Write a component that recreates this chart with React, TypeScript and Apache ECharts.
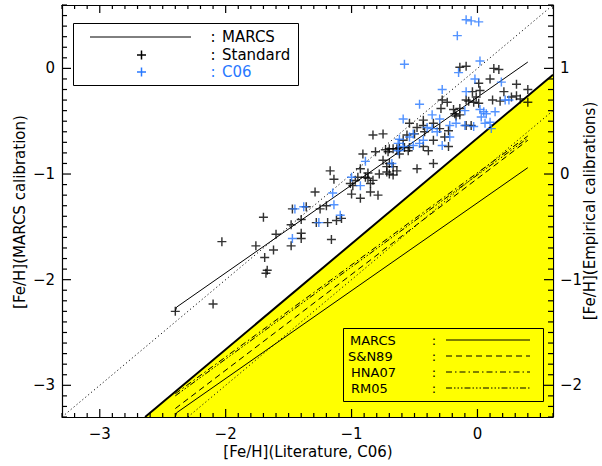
import React, { useEffect, useRef } from "react";
import * as echarts from "echarts";

// ---------- data ----------
const xTicks = [-3, -2, -1, 0];
const yLeftTicks = [-3, -2, -1, 0];
const yRightTicks = [-2, -1, 0, 1];

const blackX = [-2.40,-2.10,-2.03,-1.76,-1.70,-1.69,-1.67,-1.68,-1.62,-1.60,-1.48,-1.48,-1.47,-1.40,-1.40,-1.40,-1.36,-1.29,-1.28,-1.25,-1.20,-1.19,-1.16,-1.12,-1.08,-1.17,-1.14,-1.00,-0.97,-0.95,-0.93,-0.93,-0.91,-0.89,-0.87,-0.87,-0.85,-0.83,-0.81,-0.79,-0.78,-0.75,-0.75,-0.73,-0.72,-0.70,-0.67,-0.64,-0.64,-0.58,-0.55,-0.54,-0.56,-0.48,-0.43,-0.43,-0.42,-0.39,-0.35,-0.35,-0.35,-0.30,-0.28,-0.24,-0.29,-0.26,-0.23,-0.23,-0.19,-0.18,-0.17,-0.14,-0.14,-0.14,-0.09,-0.09,-0.09,-0.07,-0.05,-0.04,-0.03,-0.01,0.01,0.01,0.02,0.10,0.12,0.13,0.17,0.18,0.21,0.27,0.31,0.31,0.34,0.40,0.40,-0.54,-0.48,-0.59,-0.62,-0.70,-0.67,-1.01,-0.50,-0.43,-0.99,-0.85,-0.83,-0.72,-0.70,-0.71,-0.67,-0.62];
const blackY = [-2.30,-2.23,-1.64,-1.68,-1.41,-1.79,-1.91,-1.94,-1.72,-1.57,-1.48,-1.68,-1.33,-1.43,-1.56,-1.61,-1.31,-1.17,-1.46,-1.33,-1.30,-1.46,-1.62,-1.44,-1.42,-0.97,-1.05,-1.19,-1.06,-1.03,-0.95,-1.23,-0.81,-1.03,-0.99,-1.04,-1.17,-0.63,-0.79,-1.20,-1.00,-0.62,-0.87,-0.77,-0.98,-0.90,-0.93,-0.97,-0.76,-0.75,-0.78,-0.75,-0.63,-0.95,-0.49,-0.74,-0.60,-0.78,-0.68,-0.90,-0.52,-0.57,-0.30,-0.32,-0.38,-0.65,-0.59,-0.74,-0.39,-0.43,-0.45,0.01,-0.38,-0.44,0.02,-0.30,-0.54,-0.31,-0.54,-0.22,-0.32,-0.27,-0.14,-0.33,-0.21,-0.10,-0.30,0.00,-0.01,-0.31,-0.22,-0.27,-0.26,-0.15,-0.29,-0.20,-0.32,-0.52,-0.56,-0.68,-0.81,-0.76,-1.01,-1.09,-0.62,-0.54,-1.11,-1.09,-1.06,-0.93,-1.00,-0.79,-0.76,-0.75];

const blueX = [-1.45,-1.38,-1.47,-1.26,-1.15,-1.14,-1.09,-1.00,-0.93,-0.89,-0.68,-0.63,-0.63,-0.62,-0.54,-0.51,-0.59,-0.46,-0.43,-0.58,-0.59,-0.51,-0.46,-0.40,-0.36,-0.36,-0.32,-0.30,-0.28,-0.28,-0.22,-0.22,-0.17,-0.16,-0.15,-0.09,-0.05,0.01,0.02,-0.02,-0.09,-0.10,-0.10,-0.03,0.02,0.03,0.05,0.07,0.10,0.11,0.14,0.19,0.22,0.25,0.06];
const blueY = [-1.33,-1.31,-1.61,-1.46,-1.18,-1.29,-1.39,-1.03,-1.11,-0.88,-0.90,-0.71,-0.78,-0.67,-0.65,-0.62,-0.48,-0.34,-0.68,0.04,-0.74,-0.73,-0.71,-0.56,-0.57,-0.44,-0.60,-0.48,-0.20,-0.73,-0.54,-0.65,-0.52,0.31,-0.04,0.46,0.45,0.44,0.07,-0.10,-0.22,-0.40,-0.54,-0.55,-0.39,-0.46,-0.41,-0.43,-0.51,-0.57,-0.41,-0.13,-0.30,-0.30,-0.52];

// MARCS calibration (drawn on both the left and the right axis)
const marcsX = [-2.40, -2.39, 0.40];
const marcsY = [-2.30, -2.26, 0.06];
// empirical calibrations (right axis)
const calX = [-2.40, 0.40];
const sn89Y = [-2.22, 0.32];
const hna07Y = [-2.08, 0.36];
const rm05Y = [-2.10, 0.34];
// 1:1 lines
const oneLeftX = [-3.3, 0.6];
const oneRightX = [-2.3, 0.6];
// boundary of the shaded region (left axis)
const boundX = [-2.64, 0.6];
const boundY = [-3.3, -0.06];

const X_MIN = -3.3, X_MAX = 0.6;
const YL_MIN = -3.3, YL_MAX = 0.6;
const YR_MIN = -2.3, YR_MAX = 1.6;

const zip = (a: number[], b: number[]) =>
  a.slice(0, Math.min(a.length, b.length)).map((v, i) => [v, b[i]]);

const minorList = (lo: number, hi: number) => {
  const out: number[] = [];
  for (let i = Math.round(lo * 10); i <= Math.round(hi * 10); i++) {
    if (i % 10 !== 0) out.push(i / 10);
  }
  return out;
};

const FONT = '"DejaVu Sans", "Liberation Sans", sans-serif';
const BLUE = "#2878ff";
const PLUS = "path://M4.2,0H5.8V10H4.2Z M0,4.2H10V5.8H0Z";

const fmt = (v: number) => (v < 0 ? "\u2212" + Math.abs(v) : String(v));

export default function App() {
  const ref = useRef<HTMLDivElement>(null);
  useEffect(() => {
    if (!ref.current) return;
    const chart = echarts.init(ref.current, undefined, { renderer: "svg" });

    const labelStyle = { color: "#000", fontSize: 15, fontFamily: FONT, formatter: fmt };
    const axLine = { show: true, onZero: false, lineStyle: { color: "#000", width: 1.2 } };

    const mkX = (pos: string, labels: boolean) => ({
      type: "value",
      position: pos,
      min: X_MIN,
      max: X_MAX,
      axisLine: axLine,
      splitLine: { show: false },
      axisTick: { show: false },
      axisLabel: labels
        ? { ...labelStyle, show: true, margin: 9, customValues: xTicks }
        : { show: false },
    });
    const mkY = (pos: string, min: number, max: number, ticks: number[]) => ({
      type: "value",
      position: pos,
      min,
      max,
      axisLine: axLine,
      splitLine: { show: false },
      axisTick: { show: false },
      axisLabel: { ...labelStyle, show: true, margin: 7, customValues: ticks },
    });

    // one inward tick per value along one edge, placed through the axes' scales
    // dx, dy: direction of the tick in pixels
    const tickSeries = (values: number[], dim: "x" | "y", edge: number, dx: number, dy: number) => ({
      type: "custom",
      xAxisIndex: 0,
      yAxisIndex: 0,
      silent: true,
      z: 6,
      data: values.map((v) => (dim === "x" ? [v, edge] : [edge, v])),
      renderItem: (_p: any, api: any) => {
        const p = api.coord([api.value(0), api.value(1)]);
        return {
          type: "line",
          shape: { x1: p[0], y1: p[1], x2: p[0] + dx, y2: p[1] + dy },
          style: { stroke: "#000", lineWidth: 1.2 },
        };
      },
    });

    const line = (data: number[][], yIdx: number, type: any, color = "#000", width = 1) => ({
      type: "line",
      xAxisIndex: 0,
      yAxisIndex: yIdx,
      data,
      symbol: "none",
      silent: true,
      z: 3,
      lineStyle: { color, width, type },
    });

    const legText = (text: string, x: number, y: number, size: number, color = "#000", align = "left") => ({
      type: "text",
      x,
      y,
      z: 100,
      style: {
        text,
        fill: color,
        font: `${size}px ${FONT}`,
        textAlign: align,
        textVerticalAlign: "middle",
      },
    });
    const seg = (x1: number, y1: number, x2: number, y2: number, dash: any, color = "#000", w = 1) => ({
      type: "line",
      z: 100,
      shape: { x1, y1, x2, y2 },
      style: { stroke: color, lineWidth: w, lineDash: dash },
    });
    const plus = (cx: number, cy: number, color: string) => [
      seg(cx - 4.5, cy, cx + 4.5, cy, null, color, 1.5),
      seg(cx, cy - 4.5, cx, cy + 4.5, null, color, 1.5),
    ];

    const DASH = [6, 4];
    const DASHDOT = [6, 3, 1.5, 3];
    const DASH3DOT = [6, 2, 1.5, 2, 1.5, 2, 1.5, 2];
    const DOT = [1.2, 2.6];

    const legY = [340, 356, 372, 388];
    const xMinor = minorList(X_MIN, X_MAX);
    const yMinor = minorList(YL_MIN, YL_MAX);

    chart.setOption({
      animation: false,
      grid: { left: 62, right: 49, top: 5, bottom: 49, containLabel: false },
      xAxis: [mkX("bottom", true), mkX("top", false)],
      yAxis: [
        mkY("left", YL_MIN, YL_MAX, yLeftTicks),
        mkY("right", YR_MIN, YR_MAX, yRightTicks),
      ],
      series: [
        {
          type: "line",
          xAxisIndex: 0,
          yAxisIndex: 0,
          data: zip(boundX, boundY),
          symbol: "none",
          silent: true,
          z: 1,
          lineStyle: { color: "#000", width: 2 },
          areaStyle: { color: "#ffff00", opacity: 1, origin: "start" },
        },
        line(zip(oneLeftX, oneLeftX), 0, DOT, "#111"),
        line(zip(oneRightX, oneRightX), 1, DOT, "#111"),
        line(zip(marcsX, marcsY), 0, "solid"),
        line(zip(marcsX, marcsY), 1, "solid"),
        line(zip(calX, sn89Y), 1, DASH),
        line(zip(calX, hna07Y), 1, DASHDOT),
        line(zip(calX, rm05Y), 1, DASH3DOT),
        {
          type: "scatter",
          xAxisIndex: 0,
          yAxisIndex: 0,
          data: zip(blackX, blackY),
          symbol: PLUS,
          symbolSize: 9,
          silent: true,
          z: 4,
          itemStyle: { color: "#000" },
        },
        {
          type: "scatter",
          xAxisIndex: 0,
          yAxisIndex: 0,
          data: zip(blueX, blueY),
          symbol: PLUS,
          symbolSize: 9,
          silent: true,
          z: 5,
          itemStyle: { color: BLUE },
        },
        // ticks (right-axis values sit at the same heights as the left ones)
        tickSeries(xTicks, "x", YL_MIN, 0, -8),
        tickSeries(xMinor, "x", YL_MIN, 0, -4),
        tickSeries(xTicks, "x", YL_MAX, 0, 8),
        tickSeries(xMinor, "x", YL_MAX, 0, 4),
        tickSeries(yLeftTicks, "y", X_MIN, 9, 0),
        tickSeries(yMinor, "y", X_MIN, 5, 0),
        tickSeries(yLeftTicks, "y", X_MAX, -9, 0),
        tickSeries(yMinor, "y", X_MAX, -5, 0),
      ],
      graphic: [
        // axis titles
        legText("[Fe/H](Literature, C06)", 308, 452, 15, "#000", "center"),
        {
          type: "text",
          x: 20,
          y: 212,
          rotation: Math.PI / 2,
          style: {
            text: "[Fe/H](MARCS calibration)",
            fill: "#000",
            font: `15px ${FONT}`,
            textAlign: "center",
            textVerticalAlign: "middle",
          },
        },
        {
          type: "text",
          x: 590,
          y: 211,
          rotation: Math.PI / 2,
          style: {
            text: "[Fe/H](Empirical calibrations)",
            fill: "#000",
            font: `15px ${FONT}`,
            textAlign: "center",
            textVerticalAlign: "middle",
          },
        },
        // top-left legend
        {
          type: "rect",
          z: 99,
          shape: { x: 73.5, y: 23.5, width: 225, height: 62 },
          style: { fill: "#fff", stroke: "#000", lineWidth: 1 },
        },
        seg(90, 37, 191, 37, null),
        ...plus(141.5, 55, "#000"),
        ...plus(141.5, 72, BLUE),
        legText(":", 213, 37, 15, "#000", "center"),
        legText(":", 213, 55, 15, "#000", "center"),
        legText(":", 213, 72, 15, BLUE, "center"),
        legText("MARCS", 222, 37, 15),
        legText("Standard", 222, 55, 15),
        legText("C06", 222, 72, 15, BLUE),
        // bottom-right legend
        {
          type: "rect",
          z: 99,
          shape: { x: 343.5, y: 328.5, width: 200, height: 73 },
          style: { fill: "none", stroke: "#000", lineWidth: 1 },
        },
        legText("MARCS", 350, legY[0], 13),
        legText("S&N89", 348, legY[1], 13),
        legText("HNA07", 351, legY[2], 13),
        legText("RM05", 351, legY[3], 13),
        ...legY.map((y) => legText(":", 434, y, 13, "#000", "center")),
        seg(446, legY[0], 530, legY[0], null),
        seg(446, legY[1], 530, legY[1], DASH),
        seg(446, legY[2], 530, legY[2], DASHDOT),
        seg(446, legY[3], 530, legY[3], DASH3DOT),
      ],
    });
    return () => chart.dispose();
  }, []);
  return (
    <div
      ref={ref}
      style={{ position: "absolute", left: 0, top: 0, width: 602, height: 466 }}
    />
  );
}
